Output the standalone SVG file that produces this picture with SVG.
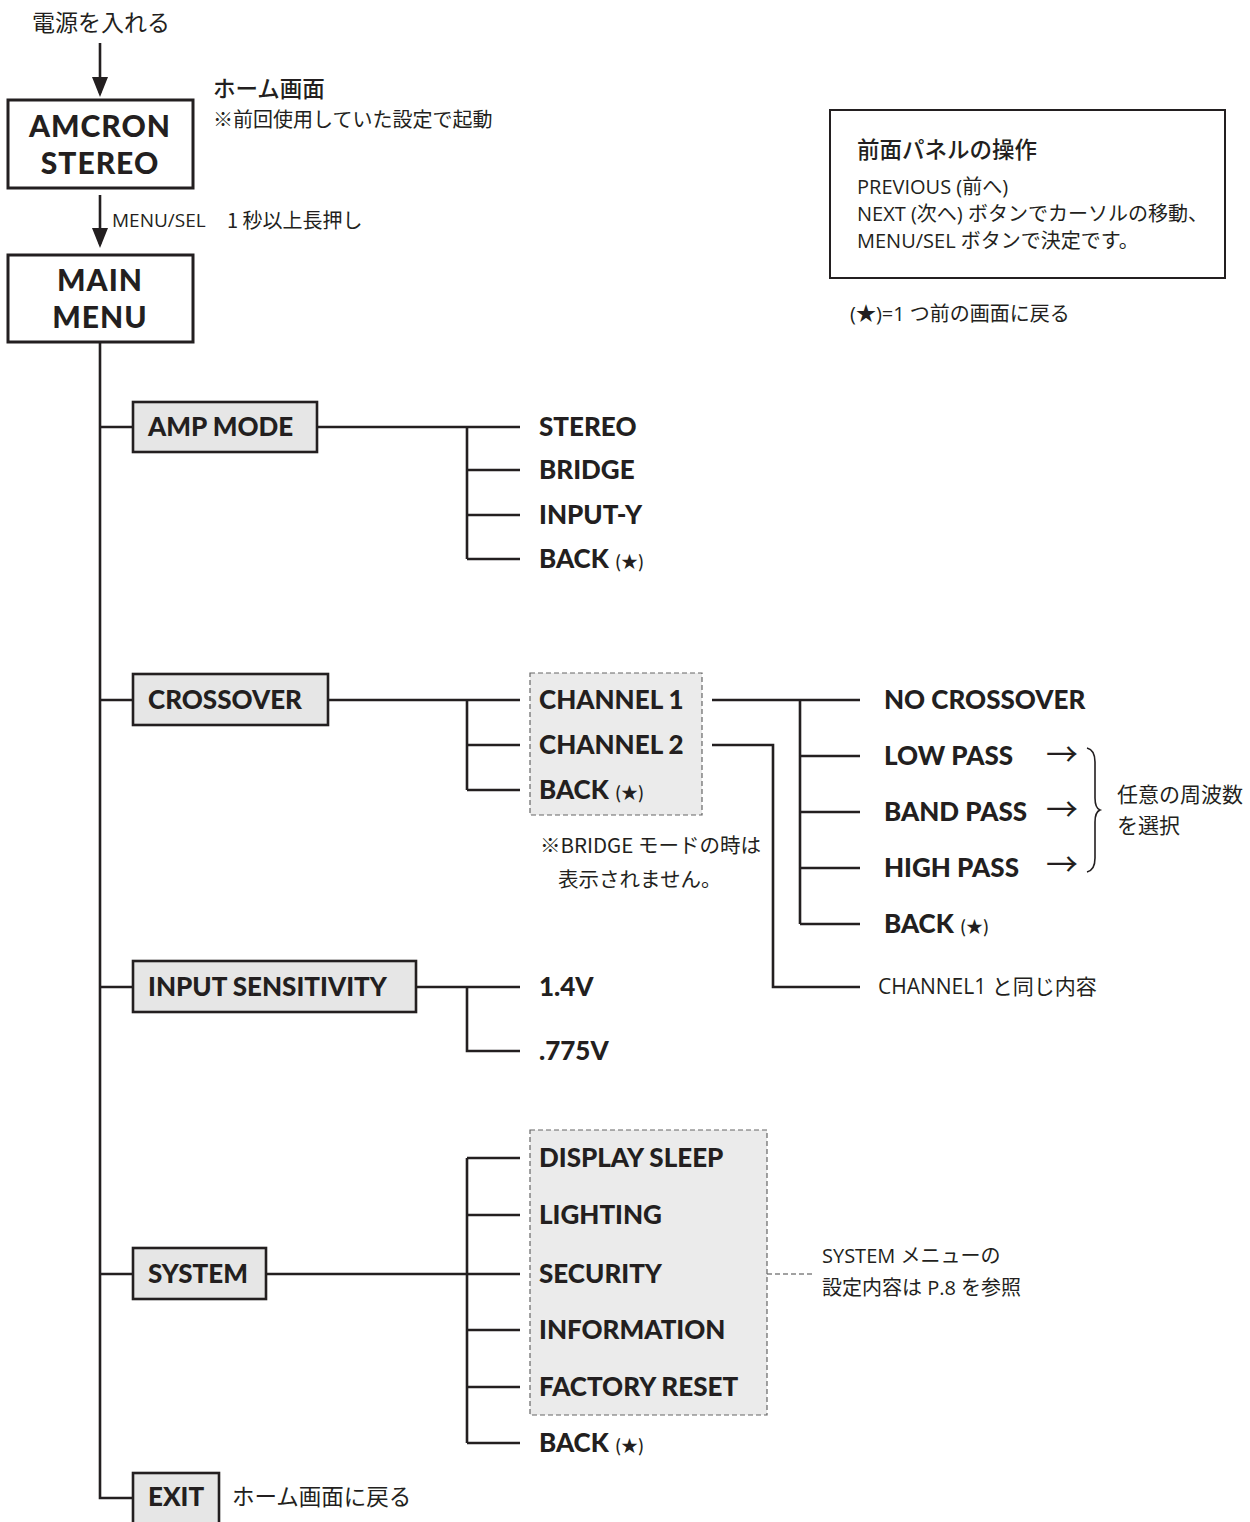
<svg xmlns="http://www.w3.org/2000/svg" width="1250" height="1522" viewBox="0 0 1250 1522">
<style>
.ln{fill:none;stroke:#231f20;stroke-width:2.6}
.wb{fill:#fff;stroke:#231f20;stroke-width:3}
.gb{fill:#e6e6e6;stroke:#231f20;stroke-width:2.6}
.db{fill:#ebebeb;stroke:#666;stroke-width:1.2;stroke-dasharray:5 3}
.dl{fill:none;stroke:#444;stroke-width:1.2;stroke-dasharray:5 3}
.bt{font-family:Lato,"Noto Sans CJK JP",sans-serif;font-weight:900;font-size:26px;fill:#231f20}
.big{font-family:Lato,"Noto Sans CJK JP",sans-serif;font-weight:900;font-size:30px;letter-spacing:1px;fill:#231f20;text-anchor:middle}
.t{font-family:"Open Sans","Noto Sans CJK JP",sans-serif;font-size:20px;fill:#231f20}
.j{font-family:"Noto Sans CJK JP",sans-serif;font-size:20px;fill:#231f20}
.st{font-family:"Noto Sans CJK JP",sans-serif;font-size:17px;font-weight:500}
.ar{font-family:"Noto Sans CJK JP",sans-serif;font-size:32px;fill:#231f20}
</style>
<defs>
<marker id="ah" markerUnits="userSpaceOnUse" markerWidth="20" markerHeight="16" refX="16" refY="8" orient="auto">
<path d="M0,0 L20,8 L0,16 z" fill="#231f20"/>
</marker>
</defs>

<g id="connectors">
<path class="ln" d="M100,43 V93" marker-end="url(#ah)"/>
<path class="ln" d="M100,195 V244" marker-end="url(#ah)"/>
<path class="ln" d="M100,342 V1498 H133"/>
<path class="ln" d="M100,427 H133 M100,700 H133 M100,987 H133 M100,1274 H133"/>
<path class="ln" d="M317,427 H520 M467,427 V559 M467,470 H520 M467,515 H520 M467,559 H520"/>
<path class="ln" d="M328,700 H520 M467,700 V790 M467,745 H520 M467,790 H520"/>
<path class="ln" d="M712,700 H860 M800,700 V924 M800,756 H860 M800,812 H860 M800,868 H860 M800,924 H860"/>
<path class="ln" d="M712,745 H773 V987 H860"/>
<path class="ln" d="M416,987 H520 M467,987 V1051 H520"/>
<path class="ln" d="M266,1274 H520 M467,1158 V1443 M467,1158 H520 M467,1215 H520 M467,1330 H520 M467,1387 H520 M467,1443 H520"/>
<path class="dl" d="M767,1274 H815"/>
<path fill="none" stroke="#231f20" stroke-width="1.6" d="M1087,748 Q1095,750 1095,762 V798 Q1095,808 1100,810 Q1095,812 1095,822 V858 Q1095,870 1087,872"/>
</g>

<g id="power">
<text class="j" x="32" y="31" style="font-size:23px">電源を入れる</text>
</g>

<g id="amcron">
<rect class="wb" x="8" y="100" width="185" height="88"/>
<text class="big" x="100" y="137">AMCRON</text>
<text class="big" x="100" y="174">STEREO</text>
</g>
<g id="home-note">
<text class="j" x="213" y="97" style="font-size:22.5px;font-weight:500">ホーム画面</text>
<text class="j" x="213" y="127">※前回使用していた設定で起動</text>
</g>
<g id="menu-sel-note">
<text class="t" x="112" y="227" style="font-size:19px">MENU/SEL</text>
<text class="j" x="227" y="228">1 秒以上長押し</text>
</g>

<g id="main-menu">
<rect class="wb" x="8" y="255" width="185" height="87"/>
<text class="big" x="100" y="291">MAIN</text>
<text class="big" x="100" y="328">MENU</text>
</g>

<g id="panel-info">
<rect fill="#fff" stroke="#231f20" stroke-width="2" x="830" y="110" width="395" height="168"/>
<text class="j" x="857" y="158" style="font-size:22.5px;font-weight:500">前面パネルの操作</text>
<text class="t" x="857" y="194">PREVIOUS (前へ)</text>
<text class="t" x="857" y="221">NEXT (次へ) ボタンでカーソルの移動、</text>
<text class="t" x="857" y="248">MENU/SEL ボタンで決定です。</text>
</g>
<g id="star-note">
<text class="t" x="850" y="321">(★)=1 つ前の画面に戻る</text>
</g>

<g id="amp-mode">
<rect class="gb" x="133" y="402" width="184" height="50"/>
<text class="bt" x="148" y="436">AMP MODE</text>
</g>
<g id="amp-options">
<text class="bt" x="539" y="436">STEREO</text>
<text class="bt" x="539" y="479">BRIDGE</text>
<text class="bt" x="539" y="524">INPUT-Y</text>
<text class="bt" x="539" y="568">BACK <tspan class="st">(★)</tspan></text>
</g>

<g id="crossover">
<rect class="gb" x="133" y="674" width="195" height="51"/>
<text class="bt" x="148" y="709">CROSSOVER</text>
</g>
<g id="channels">
<rect class="db" x="530" y="673" width="172" height="142"/>
<text class="bt" x="539" y="709">CHANNEL 1</text>
<text class="bt" x="539" y="754">CHANNEL 2</text>
<text class="bt" x="539" y="799">BACK <tspan class="st">(★)</tspan></text>
</g>
<g id="bridge-note">
<text class="j" x="540" y="853" style="font-size:20.5px">※BRIDGE モードの時は</text>
<text class="j" x="558" y="887" style="font-size:20.5px">表示されません。</text>
</g>
<g id="filters">
<text class="bt" x="884" y="709">NO CROSSOVER</text>
<text class="bt" x="884" y="765">LOW PASS</text>
<text class="bt" x="884" y="821">BAND PASS</text>
<text class="bt" x="884" y="877">HIGH PASS</text>
<text class="bt" x="884" y="933">BACK <tspan class="st">(★)</tspan></text>
<text class="ar" x="1046" y="766">→</text>
<text class="ar" x="1046" y="821">→</text>
<text class="ar" x="1046" y="876">→</text>
</g>
<g id="freq-note">
<text class="j" x="1117" y="802" style="font-size:21px">任意の周波数</text>
<text class="j" x="1117" y="833" style="font-size:21px">を選択</text>
</g>
<g id="ch2-note">
<text class="t" x="878" y="994" style="font-size:21px">CHANNEL1 と同じ内容</text>
</g>

<g id="input-sensitivity">
<rect class="gb" x="133" y="961" width="283" height="51"/>
<text class="bt" x="148" y="996">INPUT SENSITIVITY</text>
</g>
<g id="sens-options">
<text class="bt" x="539" y="996">1.4V</text>
<text class="bt" x="539" y="1060">.775V</text>
</g>

<g id="system">
<rect class="gb" x="133" y="1248" width="133" height="51"/>
<text class="bt" x="148" y="1283">SYSTEM</text>
</g>
<g id="system-options">
<rect class="db" x="530" y="1130" width="237" height="285"/>
<text class="bt" x="539" y="1167">DISPLAY SLEEP</text>
<text class="bt" x="539" y="1224">LIGHTING</text>
<text class="bt" x="539" y="1283">SECURITY</text>
<text class="bt" x="539" y="1339">INFORMATION</text>
<text class="bt" x="539" y="1396">FACTORY RESET</text>
<text class="bt" x="539" y="1452">BACK <tspan class="st">(★)</tspan></text>
</g>
<g id="system-note">
<text class="t" x="822" y="1263">SYSTEM メニューの</text>
<text class="t" x="822" y="1295">設定内容は P.8 を参照</text>
</g>

<g id="exit">
<rect class="gb" x="133" y="1473" width="86" height="60"/>
<text class="bt" x="148" y="1506">EXIT</text>
</g>
<g id="exit-note">
<text class="j" x="232" y="1505" style="font-size:22.5px">ホーム画面に戻る</text>
</g>
</svg>
